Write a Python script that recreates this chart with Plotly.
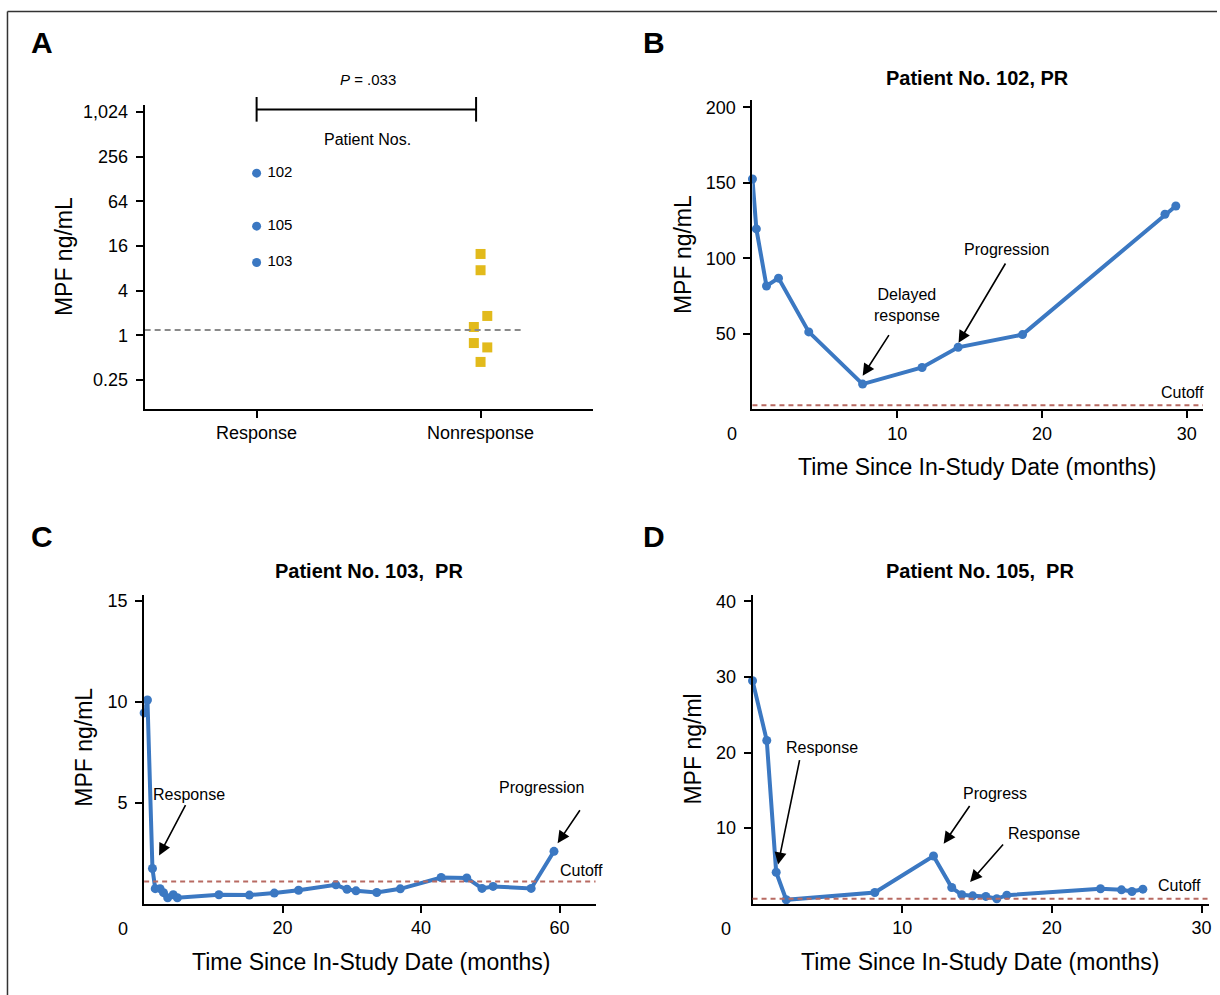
import math
import plotly.graph_objects as go

# ---------------- data ----------------
# Panel A
resp_labels = ["102", "105", "103"]
resp_values = [153, 29.6, 9.6]
nonresp_values = [12.5, 7.55, 1.83, 1.30, 0.79, 0.69, 0.44]
nonresp_jitter = [0, 0, 0.03, -0.03, -0.03, 0.03, 0]
group_labels = ["Response", "Nonresponse"]
a_tickvals = [0.25, 1, 4, 16, 64, 256, 1024]
a_ticktext = ["0.25", "1", "4", "16", "64", "256", "1,024"]
cutoff_a = 1.18

# Panel B (patient 102)
b_months = [0, 0.27, 0.97, 1.80, 3.89, 7.61, 11.72, 14.21, 18.66, 28.5, 29.25]
b_mpf = [152.5, 119.4, 81.6, 86.8, 51.2, 16.6, 27.6, 41.0, 49.4, 129.1, 134.6]
cutoff_b = 2.6

# Panel C (patient 103)
c_months = [0, 0.48, 1.2, 1.6, 2.3, 2.8, 3.4, 4.2, 4.8, 10.8, 15.2, 18.8, 22.3,
            27.7, 29.3, 30.6, 33.6, 37.0, 42.9, 46.6, 48.8, 50.4, 55.9, 59.2]
c_mpf = [9.46, 10.1, 1.75, 0.75, 0.75, 0.55, 0.3, 0.45, 0.3, 0.45, 0.43, 0.53, 0.67,
         0.94, 0.72, 0.64, 0.56, 0.74, 1.30, 1.28, 0.76, 0.86, 0.76, 2.60]
cutoff_c = 1.11

# Panel D (patient 105)
d_months = [0, 0.95, 1.58, 2.25, 8.17, 12.09, 13.31, 13.98, 14.71, 15.59, 16.32,
            16.99, 23.25, 24.65, 25.35, 26.08]
d_mpf = [29.5, 21.6, 4.17, 0.53, 1.49, 6.32, 2.15, 1.19, 1.05, 0.97, 0.66,
         1.14, 1.98, 1.84, 1.62, 1.93]
cutoff_d = 0.66

# ---------------- styling ----------------
W, H = 1220, 995
FONT = "Liberation Sans, Arial, Helvetica, sans-serif"
BLUE = "#3B78C2"
YELLOW = "#E2BA1B"
CUT_RED = "#B86A62"


def px(x):
    return x / W


def py(y):
    return 1 - y / H


fig = go.Figure()

# ---- Panel A ----
fig.add_trace(go.Scatter(
    x=[0] * len(resp_values), y=resp_values, mode="markers+text",
    text=["\u00a0" + t for t in resp_labels], textposition="middle right",
    textfont=dict(size=15, color="black", family=FONT),
    marker=dict(color=BLUE, size=9), cliponaxis=False,
    xaxis="x", yaxis="y", showlegend=False))
fig.add_trace(go.Scatter(
    x=[1 + j for j in nonresp_jitter], y=nonresp_values, mode="markers",
    marker=dict(color=YELLOW, size=10, symbol="square"), cliponaxis=False,
    xaxis="x", yaxis="y", showlegend=False))
fig.add_trace(go.Scatter(
    x=[-0.5, 1.185], y=[cutoff_a, cutoff_a], mode="lines",
    line=dict(color="#8a8a8a", width=2, dash="6px,4px"),
    xaxis="x", yaxis="y", showlegend=False, hoverinfo="skip"))

# ---- Panels B, C, D ----
for xs, ys, xa, ya in [
    (b_months, b_mpf, "x2", "y2"),
    (c_months, c_mpf, "x3", "y3"),
    (d_months, d_mpf, "x4", "y4"),
]:
    fig.add_trace(go.Scatter(
        x=xs, y=ys, mode="lines+markers",
        line=dict(color=BLUE, width=4), marker=dict(color=BLUE, size=9),
        cliponaxis=False, xaxis=xa, yaxis=ya, showlegend=False))

shapes = []
for cut, ax in [(cutoff_b, "2"), (cutoff_c, "3"), (cutoff_d, "4")]:
    shapes.append(dict(type="line", xref="x%s domain" % ax, yref="y" + ax,
                       x0=0, x1=1, y0=cut, y1=cut,
                       line=dict(color=CUT_RED, width=2, dash="5px,4px")))

# bracket in panel A
br_y, br_top, br_bot = py(106.7), py(94.3), py(119)
for x0, x1, y0, y1 in [(0, 0.98, br_y, br_y), (0, 0, br_top, br_bot), (0.98, 0.98, br_top, br_bot)]:
    shapes.append(dict(type="line", xref="x", yref="paper", x0=x0, x1=x1, y0=y0, y1=y1,
                       line=dict(color="black", width=2)))

# outer frame (top and left)
shapes.append(dict(type="line", xref="paper", yref="paper", x0=px(7.5), x1=1, y0=py(8.5), y1=py(8.5),
                   line=dict(color="#333333", width=1.5)))
shapes.append(dict(type="line", xref="paper", yref="paper", x0=px(7.5), x1=px(7.5), y0=py(8.5), y1=0,
                   line=dict(color="#333333", width=1.5)))

ann = []


def text(x, y, t, size=16, bold=False, angle=0, xanchor="center"):
    ann.append(dict(xref="paper", yref="paper", x=px(x), y=py(y), text=("<b>%s</b>" % t) if bold else t,
                    showarrow=False, xanchor=xanchor, yanchor="middle", textangle=angle,
                    font=dict(family=FONT, size=size, color="black")))


def arrow(tail, head):
    ann.append(dict(xref="paper", yref="paper", x=px(head[0]), y=py(head[1]),
                    ax=tail[0] - head[0], ay=tail[1] - head[1], axref="pixel", ayref="pixel",
                    text="", showarrow=True, arrowhead=2, arrowsize=1.5, arrowwidth=1.6,
                    arrowcolor="black", standoff=0))


# panel letters
for L, x, y in [("A", 42, 40), ("B", 656, 40), ("C", 42, 535), ("D", 656, 535)]:
    text(x, y, L, size=30, bold=True)

# Panel A texts
text(368.8, 76.7, "<i>P</i> = .033", size=15)
text(368, 136.7, "Patient Nos.", size=16)
text(64, 254, "MPF ng/mL", size=23, angle=-90)

# Panel B
text(979.6, 75, "Patient No. 102, PR", size=20, bold=True)
text(684, 252.5, "MPF ng/mL", size=23, angle=-90)
text(979.6, 465, "Time Since In-Study Date (months)", size=23)
text(908.8, 303, "Delayed<br>response", size=16)
text(1008.7, 247.7, "Progression", size=16)
text(1209, 390.7, "Cutoff", size=16, xanchor="right")
text(733.7, 432.7, "0", size=18)
arrow((892, 331.7), (864.8, 374))
arrow((1008.7, 260), (960.9, 340.7))

# Panel C
text(370.3, 570, "Patient No. 103,\u00a0 PR", size=20, bold=True)
text(84.5, 746.7, "MPF ng/mL", size=23, angle=-90)
text(371.5, 961.7, "Time Since In-Study Date (months)", size=23)
text(189.4, 794, "Response", size=16)
text(542.7, 786.7, "Progression", size=16)
text(606, 870, "Cutoff", size=16, xanchor="right")
text(123.7, 929, "0", size=18)
arrow((186.7, 803.3), (159.5, 855))
arrow((582.3, 808.3), (559, 842.7))

# Panel D
text(982.7, 570, "Patient No. 105,\u00a0 PR", size=20, bold=True)
text(694.5, 748, "MPF ng/ml", size=23, angle=-90)
text(982.7, 961.7, "Time Since In-Study Date (months)", size=23)
text(824, 747, "Response", size=16)
text(997.8, 792.7, "Progress", size=16)
text(1046.5, 832.7, "Response", size=16)
text(1182.6, 885, "Cutoff", size=16)
text(727.9, 929, "0", size=18)
arrow((801.8, 758.3), (780, 864))
arrow((973, 804), (946, 843.3))
arrow((1006.8, 842.7), (972.5, 881.7))

axis_common = dict(showline=True, linecolor="black", linewidth=2, ticks="outside", ticklen=7,
                   tickwidth=1.5, tickcolor="black", showgrid=False, zeroline=False,
                   tickfont=dict(family=FONT, size=18, color="black"))

layout = dict(
    width=W, height=H, margin=dict(l=0, r=0, t=0, b=0),
    paper_bgcolor="white", plot_bgcolor="white",
    font=dict(family=FONT, color="black"),
    shapes=shapes, annotations=ann, showlegend=False,
    # A
    xaxis=dict(domain=[px(145), px(594)], range=[-0.5, 1.5], tickvals=[0, 1], ticktext=group_labels,
               anchor="y", ticklabelstandoff=0, **axis_common),
    yaxis=dict(domain=[py(407), py(102)], type="log",
               range=[math.log10(2 ** -3.28), math.log10(2 ** 10.32)],
               tickvals=a_tickvals, ticktext=a_ticktext, anchor="x", ticklabelstandoff=4, **axis_common),
    # B
    xaxis2=dict(domain=[px(754.3), px(1206)], range=[0, 31.13], tickvals=[10, 20, 30],
                anchor="y2", ticklabelstandoff=0, **axis_common),
    yaxis2=dict(domain=[py(407.4), py(97.3)], range=[0, 204.8], tickvals=[50, 100, 150, 200],
                anchor="x2", ticklabelstandoff=4, **axis_common),
    # C
    xaxis3=dict(domain=[px(144.5), px(597)], range=[0, 65.2], tickvals=[20, 40, 60],
                anchor="y3", ticklabelstandoff=0, **axis_common),
    yaxis3=dict(domain=[py(903.5), py(593.3)], range=[0, 15.33], tickvals=[5, 10, 15],
                anchor="x3", ticklabelstandoff=4, **axis_common),
    # D
    xaxis4=dict(domain=[px(754.4), px(1212)], range=[0, 30.5], tickvals=[10, 20, 30],
                anchor="y4", ticklabelstandoff=0, **axis_common),
    yaxis4=dict(domain=[py(903.5), py(593.3)], range=[0, 40.9], tickvals=[10, 20, 30, 40],
                anchor="x4", ticklabelstandoff=4, **axis_common),
)
fig.update_layout(**layout)
fig.write_html("out.html", config={"displayModeBar": False},
               post_script="document.body.style.margin='0';document.body.style.overflow='hidden';")
